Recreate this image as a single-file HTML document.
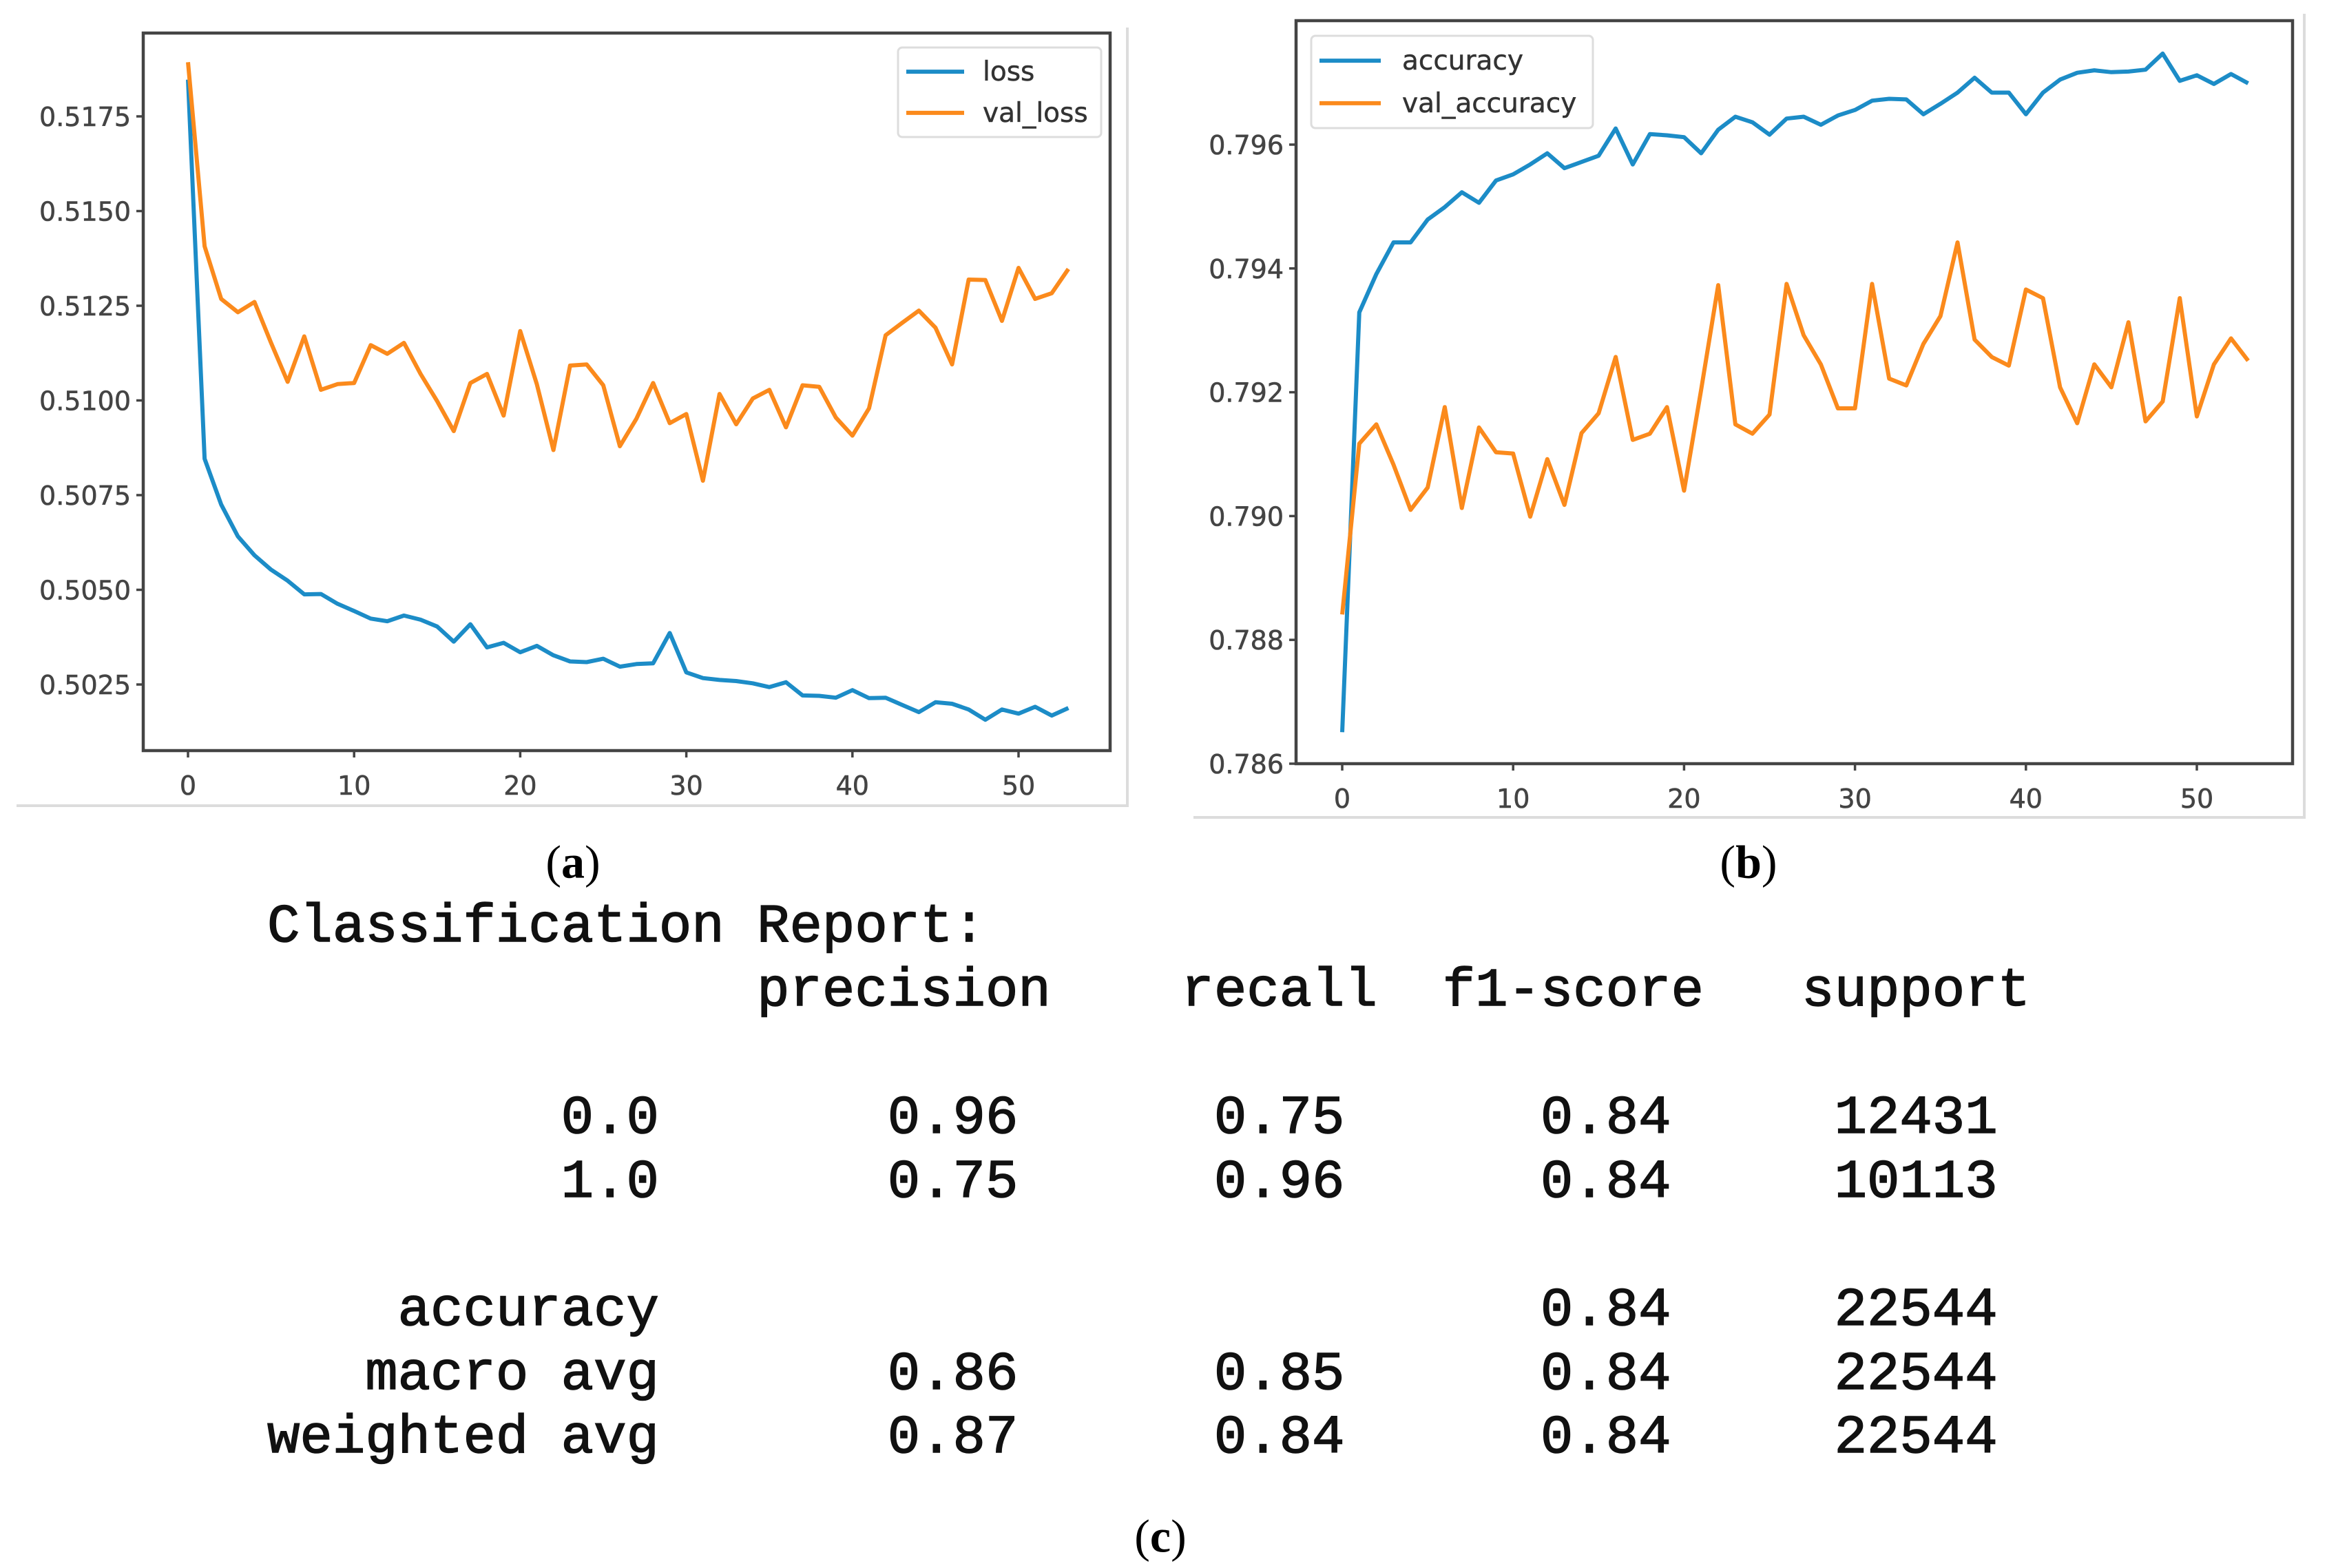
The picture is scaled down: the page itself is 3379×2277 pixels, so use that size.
<!DOCTYPE html>
<html><head><meta charset="utf-8">
<style>
html,body{margin:0;padding:0;background:#fff;}
body{width:3379px;height:2277px;position:relative;overflow:hidden;}
svg{position:absolute;left:0;top:0;}
.cap{position:absolute;font-family:"Liberation Serif",serif;font-size:68px;color:#000;transform:translate(-50%,-50%);}
.rep{position:absolute;left:388px;top:1300px;margin:0;font-family:"Liberation Mono",monospace;font-size:79px;line-height:92.8px;color:#111;white-space:pre;-webkit-text-stroke:1.5px #111;}
</style></head>
<body>
<svg id="chart" width="3379" height="2277" xmlns="http://www.w3.org/2000/svg"></svg>
<div class="cap" style="left:832px;top:1252px;">(<b>a</b>)</div>
<div class="cap" style="left:2539px;top:1252px;">(<b>b</b>)</div>
<div class="cap" style="left:1685px;top:2231px;">(<b>c</b>)</div>
<pre class="rep">Classification Report:
               precision    recall  f1-score   support

         0.0       0.96      0.75      0.84     12431
         1.0       0.75      0.96      0.84     10113

    accuracy                           0.84     22544
   macro avg       0.86      0.85      0.84     22544
weighted avg       0.87      0.84      0.84     22544</pre>
<script>
const epochs = Array.from({length:54},(_,i)=>i);
const lossValues = [0.51847,0.50846,0.50725,0.50641,0.50591,0.50553,0.50524,0.50488,0.50489,0.50463,0.50444,0.50424,0.50417,0.50432,0.50421,0.50403,0.50363,0.50409,0.50348,0.50360,0.50335,0.50352,0.50327,0.50311,0.50309,0.50318,0.50297,0.50304,0.50306,0.50386,0.50282,0.50267,0.50262,0.50259,0.50253,0.50243,0.50256,0.50221,0.50220,0.50215,0.50235,0.50214,0.50215,0.50196,0.50177,0.50203,0.50199,0.50184,0.50157,0.50184,0.50173,0.50191,0.50168,0.50188];
const valLossValues = [0.51893,0.51407,0.51268,0.51233,0.51260,0.51152,0.51049,0.51169,0.51028,0.51043,0.51046,0.51146,0.51123,0.51152,0.51070,0.50998,0.50919,0.51046,0.51070,0.50960,0.51183,0.51043,0.50869,0.51092,0.51095,0.51040,0.50879,0.50952,0.51046,0.50940,0.50964,0.50788,0.51017,0.50937,0.51005,0.51028,0.50929,0.51040,0.51036,0.50955,0.50907,0.50979,0.51172,0.51205,0.51237,0.51192,0.51095,0.51319,0.51318,0.51210,0.51350,0.51268,0.51283,0.51347];
const accValues = [0.78651,0.79329,0.79391,0.79442,0.79442,0.79479,0.79499,0.79523,0.79506,0.79542,0.79552,0.79568,0.79586,0.79562,0.79572,0.79582,0.79626,0.79568,0.79617,0.79615,0.79612,0.79586,0.79624,0.79645,0.79636,0.79616,0.79642,0.79645,0.79632,0.79647,0.79656,0.79671,0.79674,0.79673,0.79649,0.79666,0.79684,0.79708,0.79684,0.79684,0.79649,0.79684,0.79705,0.79716,0.79720,0.79717,0.79718,0.79721,0.79747,0.79703,0.79712,0.79698,0.79714,0.79699];
const valAccValues = [0.78841,0.79117,0.79148,0.79083,0.79010,0.79046,0.79176,0.79013,0.79143,0.79103,0.79101,0.78999,0.79092,0.79018,0.79134,0.79166,0.79257,0.79123,0.79133,0.79176,0.79041,0.79204,0.79373,0.79148,0.79133,0.79164,0.79375,0.79292,0.79245,0.79174,0.79174,0.79375,0.79222,0.79211,0.79278,0.79323,0.79442,0.79285,0.79257,0.79243,0.79366,0.79352,0.79208,0.79150,0.79245,0.79208,0.79313,0.79153,0.79185,0.79352,0.79161,0.79245,0.79287,0.79251];
const xTicks = [0,10,20,30,40,50];
const yTicksA = [0.5025,0.5050,0.5075,0.5100,0.5125,0.5150,0.5175];
const yTickLabelsA = ["0.5025","0.5050","0.5075","0.5100","0.5125","0.5150","0.5175"];
const yTicksB = [0.786,0.788,0.790,0.792,0.794,0.796];
const yTickLabelsB = ["0.786","0.788","0.790","0.792","0.794","0.796"];

const NS="http://www.w3.org/2000/svg";
const svg=document.getElementById('chart');
function mk(tag,attrs,parent){const e=document.createElementNS(NS,tag);for(const k in attrs)e.setAttribute(k,attrs[k]);(parent||svg).appendChild(e);return e;}

function drawChart(cfg){
  const g=mk('g',{});
  
  
  const X=v=>cfg.x0px+(v-cfg.x0)*cfg.xs;
  const Y=v=>cfg.y0px-(v-cfg.y0)*cfg.ys;
  const fr=mk('path',{d:cfg.frame,fill:'none',stroke:'#dcdcdc','stroke-width':4},g);
  
  
  const box=mk('rect',{x:cfg.box[0],y:cfg.box[1],width:cfg.box[2]-cfg.box[0],height:cfg.box[3]-cfg.box[1],fill:'none',stroke:'#444','stroke-width':4.5},g);
  
  
  xTicks.forEach(t=>{
    const tl=mk('line',{x1:X(t),x2:X(t),y1:cfg.box[3],y2:cfg.box[3]+10,stroke:'#444','stroke-width':3.5},g);
    
    
    const tx=mk('text',{x:X(t),y:cfg.box[3]+64,'text-anchor':'middle','font-family':'DejaVu Sans, sans-serif','font-size':38,fill:'#444','stroke':'#444','stroke-width':0.6},g);
    tx.textContent=String(t);
    
    
  });
  cfg.yTicks.forEach((t,i)=>{
    const tl=mk('line',{x1:cfg.box[0]-10,x2:cfg.box[0],y1:Y(t),y2:Y(t),stroke:'#444','stroke-width':3.5},g);
    
    
    const tx=mk('text',{x:cfg.box[0]-18,y:Y(t)+14,'text-anchor':'end','font-family':'DejaVu Sans, sans-serif','font-size':38,fill:'#444','stroke':'#444','stroke-width':0.6},g);
    tx.textContent=cfg.yLabels[i];
    
    
  });
  cfg.series.forEach(s=>{
    const d=s.values.map((v,i)=>(i?'L':'M')+X(epochs[i]).toFixed(1)+','+Y(v).toFixed(1)).join(' ');
    const p=mk('path',{d:d,fill:'none',stroke:s.color,'stroke-width':6,'stroke-linejoin':'round'},g);
    
    
  });
  const L=cfg.legend;
  const lg=mk('g',{},g);
  
  
  mk('rect',{x:L.x,y:L.y,width:L.w,height:L.h,rx:6,fill:'#fff',stroke:'#ddd','stroke-width':3},lg);
  cfg.series.forEach((s,i)=>{
    const cy=L.y+L.h*(i===0?0.27:0.73);
    mk('line',{x1:L.x+12,x2:L.x+12+L.lw,y1:cy,y2:cy,stroke:s.color,'stroke-width':6},lg);
    const t=mk('text',{x:L.x+L.tx,y:cy+13,'font-family':'DejaVu Sans, sans-serif','font-size':39,fill:'#333','stroke':'#333','stroke-width':0.5},lg);
    t.textContent=s.name;
    
    
  });
}

drawChart({name:'loss-chart',x0:0,x0px:273,xs:24.12,y0:0.5175,y0px:169,ys:137.5/0.0025,
  box:[208,48,1612,1090],frame:'M24,1170 L1637,1170 L1637,40',
  yTicks:yTicksA,yLabels:yTickLabelsA,
  series:[{name:'loss',values:lossValues,color:'#1c8cc7'},{name:'val_loss',values:valLossValues,color:'#fb8a1c'}],
  legend:{x:1304,y:69,w:295,h:130,lw:84,tx:123}});
drawChart({name:'accuracy-chart',x0:0,x0px:1949,xs:24.82,y0:0.796,y0px:210,ys:179.8/0.002,
  box:[1882,30,3329,1109],frame:'M1733,1187 L3346,1187 L3346,20',
  yTicks:yTicksB,yLabels:yTickLabelsB,
  series:[{name:'accuracy',values:accValues,color:'#1c8cc7'},{name:'val_accuracy',values:valAccValues,color:'#fb8a1c'}],
  legend:{x:1904,y:52,w:409,h:134,lw:89,tx:132}});
</script>
</body></html>
